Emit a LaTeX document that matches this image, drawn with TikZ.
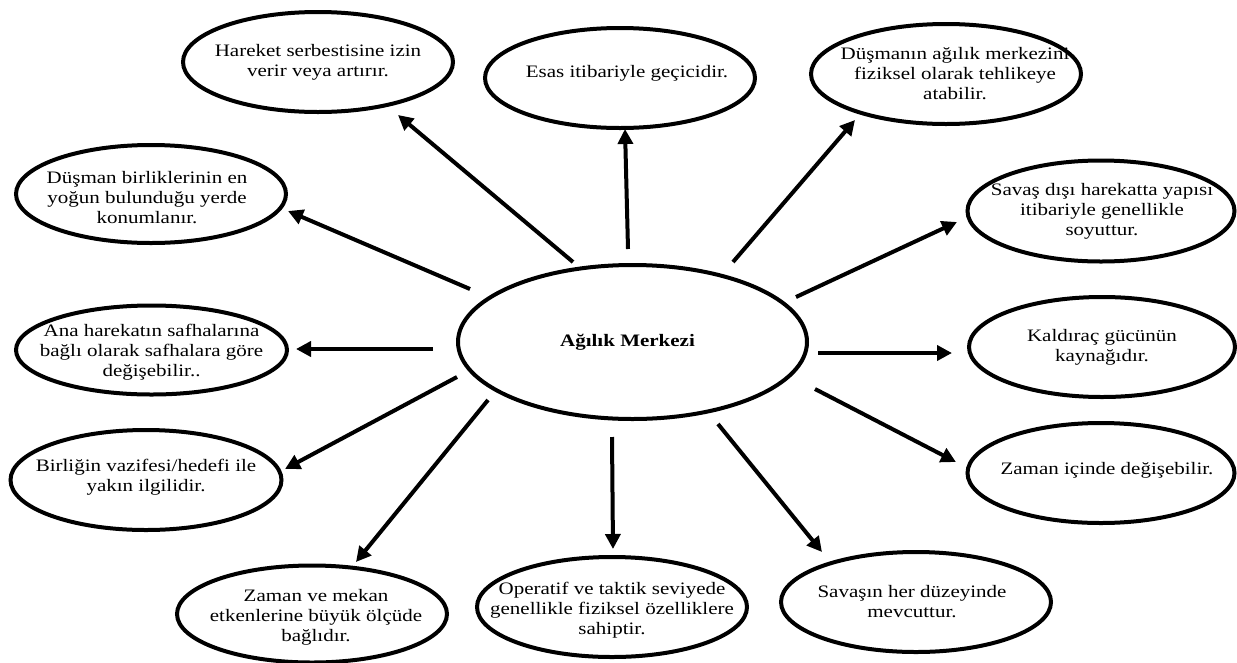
\documentclass[tikz,border=0pt]{standalone}
\usepackage{fontspec}
\setmainfont{Liberation Serif}[FakeStretch=1.2]
\usetikzlibrary{arrows.meta,shapes.geometric}
\begin{document}
\begin{tikzpicture}[x=1pt,y=-1pt,
  ell/.style={draw, ellipse, line width=4pt, inner sep=0pt, minimum width=270pt, minimum height=100pt},
  txt/.style={align=center, font=\fontsize{17.5}{20}\selectfont, inner sep=0pt},
  arr/.style={line width=4pt, -{Triangle[length=15pt,width=15pt]}}
]
\useasboundingbox (0,0) rectangle (1237,662);
\fill[white] (0,0) rectangle (1237,662);

% central node
\node[ell, minimum width=349pt, minimum height=154pt,
  label={[txt, font=\fontsize{17.5}{20}\selectfont\bfseries, xshift=-5pt]center:{Ağılık Merkezi}}] (c) at (632.5,342) {};

% outer nodes
\node[ell, label={[txt]center:{Hareket serbestisine izin\\verir veya artırır.}}] (e1) at (318,62) {};
\node[ell, label={[txt, xshift=7pt, yshift=5pt]center:{Esas itibariyle geçicidir.}}] (e2) at (620,78) {};
\node[ell, label={[txt, xshift=9pt]center:{Düşmanın ağılık merkezini\\fiziksel olarak tehlikeye\\atabilir.}}] (e3) at (946,74) {};
\node[ell, minimum width=267pt, minimum height=101pt, label={[txt, xshift=1pt]center:{Savaş dışı harekatta yapısı\\itibariyle genellikle\\soyuttur.}}] (e4) at (1101,211) {};
\node[ell, minimum width=266pt, label={[txt]center:{Kaldıraç gücünün\\kaynağıdır.}}] (e5) at (1102,347) {};
\node[ell, minimum width=267pt, label={[txt, xshift=6pt, yshift=3pt]center:{Zaman içinde değişebilir.}}] (e6) at (1101,473) {};
\node[ell, label={[txt, xshift=-4pt]center:{Savaşın her düzeyinde\\mevcuttur.}}] (e7) at (916,602) {};
\node[ell, label={[txt, yshift=-3pt]center:{Operatif ve taktik seviyede\\genellikle fiziksel özelliklere\\sahiptir.}}] (e8) at (612,607) {};
\node[ell, minimum height=97pt, label={[txt, xshift=4pt, yshift=-3pt]center:{Zaman ve mekan\\etkenlerine büyük ölçüde\\bağlıdır.}}] (e9) at (312,614) {};
\node[ell, minimum width=271pt, label={[txt, yshift=3pt]center:{Birliğin vazifesi/hedefi ile\\yakın ilgilidir.}}] (e10) at (146,480) {};
\node[ell, minimum width=271pt, minimum height=89pt, label={[txt, yshift=-2pt]center:{Ana harekatın safhalarına\\bağlı olarak safhalara göre\\değişebilir..}}] (e11) at (151.5,350) {};
\node[ell, minimum width=270pt, minimum height=98pt, label={[txt, xshift=-4pt, yshift=-4pt]center:{Düşman birliklerinin en\\yoğun bulunduğu yerde\\konumlanır.}}] (e12) at (151,194) {};

% arrow end points
\coordinate (s1) at (573,262);  \coordinate (t1) at (398,115);
\coordinate (s2) at (628,249);  \coordinate (t2) at (625,129);
\coordinate (s3) at (733,262);  \coordinate (t3) at (855,120);
\coordinate (s4) at (796,297);  \coordinate (t4) at (957,222);
\coordinate (s5) at (818,353);  \coordinate (t5) at (952,353);
\coordinate (s6) at (815,389);  \coordinate (t6) at (956,462);
\coordinate (s7) at (718,424);  \coordinate (t7) at (822,552);
\coordinate (s8) at (612,437);  \coordinate (t8) at (613,549);
\coordinate (s9) at (488,400);  \coordinate (t9) at (356,562);
\coordinate (s10) at (457,377); \coordinate (t10) at (285,469);
\coordinate (s11) at (433,349); \coordinate (t11) at (296,349);
\coordinate (s12) at (470,289); \coordinate (t12) at (288,211);

\foreach \i in {1,...,12} {\draw[arr] (s\i) -- (t\i);}
\end{tikzpicture}
\end{document}
